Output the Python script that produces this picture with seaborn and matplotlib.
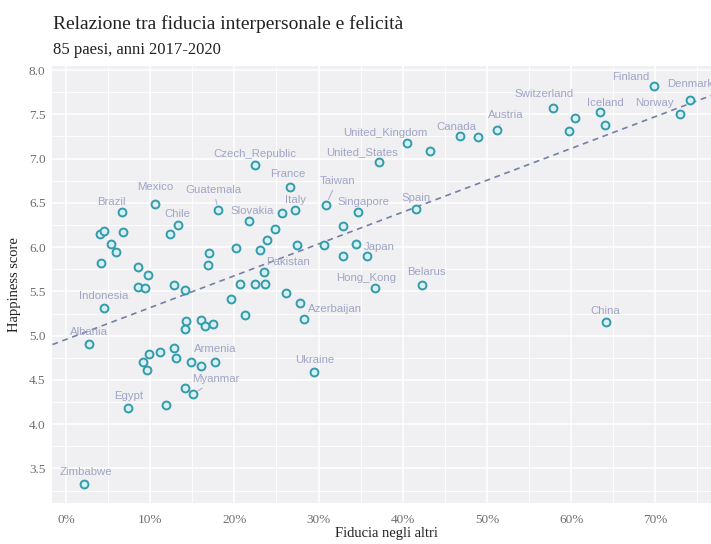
import pandas as pd
import numpy as np
import matplotlib
matplotlib.use('Agg')
import matplotlib.pyplot as plt
import seaborn as sns
from matplotlib.ticker import PercentFormatter, MultipleLocator

# data (trust as share, happiness score)
countries = [
    "Zimbabwe", "Albania", "Egypt", "", "", "Myanmar", "", "", "", "", "", "", "", "", "Armenia", "Ukraine",
    "Indonesia", "", "", "", "", "", "", "Azerbaijan", "", "", "", "", "", "", "", "", "", "", "", "",
    "", "", "", "", "", "", "Brazil", "Mexico", "Chile", "", "Guatemala", "", "", "", "", "",
    "Pakistan", "", "Slovakia", "", "Italy", "France", "Czech_Republic", "", "", "Taiwan", "Singapore",
    "", "", "", "Japan", "Hong_Kong", "Belarus", "Spain", "United_States", "United_Kingdom", "",
    "Canada", "", "Austria", "Switzerland", "", "", "Iceland", "", "Finland", "Denmark", "Norway", "China",
]
trust = [
    0.021, 0.027, 0.074, 0.119, 0.141, 0.151, 0.096, 0.091, 0.099, 0.112, 0.128, 0.131, 0.148, 0.160, 0.177, 0.295,
    0.045, 0.143, 0.160, 0.165, 0.175, 0.142, 0.213, 0.283, 0.278, 0.196, 0.261, 0.207, 0.224, 0.236, 0.141, 0.128,
    0.085, 0.094, 0.097, 0.086, 0.042, 0.059, 0.053, 0.040, 0.045, 0.068, 0.066, 0.106, 0.133, 0.124, 0.181, 0.170,
    0.169, 0.202, 0.230, 0.239, 0.235, 0.248, 0.217, 0.257, 0.272, 0.266, 0.224, 0.274, 0.306, 0.309, 0.347,
    0.329, 0.345, 0.329, 0.357, 0.367, 0.423, 0.416, 0.372, 0.405, 0.433,
    0.468, 0.490, 0.512, 0.578, 0.605, 0.597, 0.634, 0.640, 0.699, 0.741, 0.729, 0.641,
]
happiness = [
    3.33, 4.91, 4.18, 4.22, 4.41, 4.34, 4.61, 4.70, 4.79, 4.81, 4.86, 4.75, 4.70, 4.66, 4.70, 4.59,
    5.31, 5.16, 5.18, 5.11, 5.13, 5.08, 5.23, 5.19, 5.37, 5.41, 5.48, 5.58, 5.58, 5.58, 5.52, 5.57,
    5.55, 5.54, 5.69, 5.77, 5.82, 5.95, 6.03, 6.15, 6.18, 6.17, 6.40, 6.49, 6.25, 6.15, 6.42, 5.93,
    5.80, 5.99, 5.97, 6.08, 5.72, 6.21, 6.30, 6.39, 6.42, 6.68, 6.93, 6.02, 6.02, 6.48, 6.40,
    6.24, 6.04, 5.90, 5.90, 5.54, 5.57, 6.43, 6.96, 7.18, 7.09,
    7.26, 7.24, 7.32, 7.57, 7.46, 7.31, 7.53, 7.38, 7.82, 7.66, 7.50, 5.15,
]

# label placement (pixel offsets from the point), and labels with a leader line
label_offsets = {
    "Czech_Republic": (0, 11), "France": (-2, 13), "Guatemala": (-5, 20), "Mexico": (0, 17),
    "Brazil": (-10, 10), "Chile": (-1, 11), "Slovakia": (4, 10), "Italy": (1, 10),
    "Taiwan": (11, 24), "Singapore": (5, 10), "Spain": (0, 11), "Japan": (13, 9),
    "Pakistan": (24, 10), "Hong_Kong": (-9, 10), "Belarus": (4, 13), "China": (0, 11),
    "Azerbaijan": (31, 10), "Ukraine": (0, 12), "Armenia": (0, 13), "Myanmar": (23, 15),
    "Egypt": (0, 12), "Zimbabwe": (2, 12), "Albania": (0, 12), "Indonesia": (0, 12),
    "United_States": (-17, 10), "United_Kingdom": (-22, 10), "Canada": (-4, 9),
    "Austria": (9, 15), "Switzerland": (-9, 14), "Iceland": (6, 9), "Finland": (-24, 9),
    "Denmark": (0, 16), "Norway": (-25, 11),
}
with_segment = ["Guatemala", "Taiwan", "Myanmar", "Austria"]

df = pd.DataFrame({"country": countries, "trust": trust, "happiness": happiness})

sns.set_theme(style="darkgrid")
plt.rcParams["font.family"] = ["Liberation Serif", "DejaVu Serif"]

fig = plt.figure(figsize=(7.11, 5.44), dpi=100)
ax = fig.add_axes([0.0738, 0.0754, 0.939, 0.8024])
ax.set_facecolor("#f0f0f2")
ax.set_xlim(-0.016, 0.777)
ax.set_ylim(3.11, 8.04)

# fitted line, drawn across the whole panel
sns.regplot(data=df, x="trust", y="happiness", scatter=False, ci=None, truncate=False,
            line_kws=dict(color="#7381a6", lw=1.2, ls=(0, (3.5, 2.8))), ax=ax)
sns.scatterplot(data=df, x="trust", y="happiness", s=32, color="#d6f0f3",
                edgecolor="#339bab", linewidth=1.4, zorder=3, ax=ax)

for _, row in df[df["country"] != ""].iterrows():
    dx, dy = label_offsets[row["country"]]
    arrow = dict(arrowstyle="-", color="#a9adc6", lw=0.7, shrinkA=1, shrinkB=4) \
        if row["country"] in with_segment else None
    ax.annotate(row["country"], (row["trust"], row["happiness"]), xytext=(dx, dy),
                textcoords="offset pixels", ha="center", va="center", fontsize=8.2,
                family=["Liberation Sans", "DejaVu Sans"], color="#a0a5c5",
                arrowprops=arrow, zorder=4)

ax.xaxis.set_major_locator(MultipleLocator(0.1))
ax.xaxis.set_minor_locator(MultipleLocator(0.05))
ax.yaxis.set_major_locator(MultipleLocator(0.5))
ax.yaxis.set_minor_locator(MultipleLocator(0.25))
ax.xaxis.set_major_formatter(PercentFormatter(xmax=1, decimals=0))
ax.yaxis.set_major_formatter(plt.FormatStrFormatter("%.1f"))
ax.grid(which="major", color="white", lw=1.1)
ax.grid(which="minor", color="white", lw=0.6)
ax.tick_params(which="major", length=3, width=0.8, color="#8a8a8a", labelsize=9.5,
               labelcolor="#6e6e6e", pad=2)
ax.tick_params(axis="x", which="major", pad=5)
ax.tick_params(which="minor", length=0)
for s in ax.spines.values():
    s.set_visible(False)

ax.set_xlabel("Fiducia negli altri", fontsize=10.5, color="#222222")
ax.set_ylabel("Happiness score", fontsize=10.5, color="#222222")
ax.xaxis.set_label_coords(0.5, -0.055)
ax.yaxis.set_label_coords(-0.047, 0.5)

# ggplot-style title aligned with the panel
fig.text(0.0745, 0.9467, "Relazione tra fiducia interpersonale e felicità", fontsize=14,
         color="#222222", va="baseline")
fig.text(0.0745, 0.9007, "85 paesi, anni 2017-2020", fontsize=12,
         color="#222222", va="baseline")

fig.savefig("out.png", dpi=100)
